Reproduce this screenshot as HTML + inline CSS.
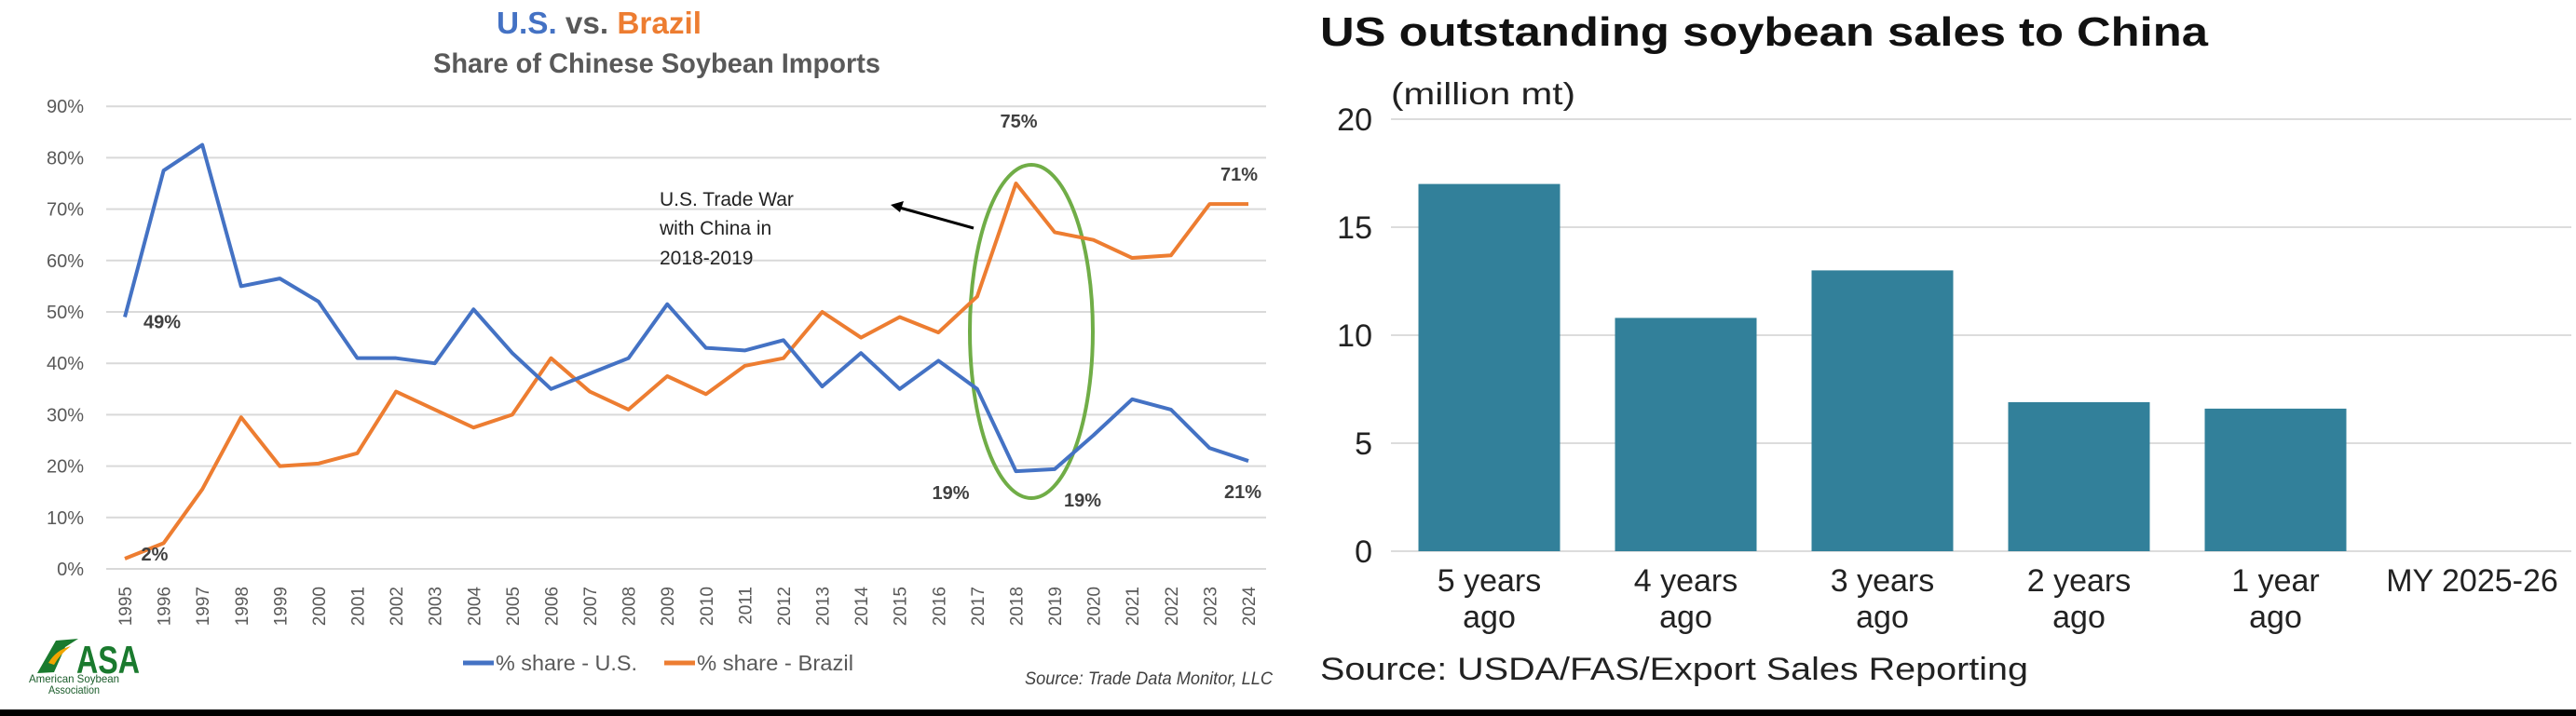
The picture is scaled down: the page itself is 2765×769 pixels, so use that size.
<!DOCTYPE html>
<html><head><meta charset="utf-8"><style>
html,body{margin:0;padding:0;background:#fff;}
svg{display:block;}
.n{font-family:"Liberation Sans Narrow","Liberation Sans",sans-serif;}
.w{font-family:"Liberation Sans",sans-serif;}
</style></head><body>
<svg id="root" width="2765" height="769" viewBox="0 0 2765 769" xmlns="http://www.w3.org/2000/svg">
<rect x="0" y="0" width="2765" height="769" fill="#fff"/>
<g id="left">
  <text class="n" x="643" y="36" text-anchor="middle" font-size="33" font-weight="bold" textLength="220" lengthAdjust="spacingAndGlyphs"><tspan fill="#4472c4">U.S.</tspan><tspan fill="#595959"> vs. </tspan><tspan fill="#ed7d31">Brazil</tspan></text>
  <text class="n" x="705" y="78" text-anchor="middle" font-size="30" font-weight="bold" fill="#595959" textLength="480" lengthAdjust="spacingAndGlyphs">Share of Chinese Soybean Imports</text>
  <g id="lgrid"></g>
  <g id="lylab"></g>
  <g id="lxlab"></g>
  <ellipse cx="1107" cy="356" rx="66" ry="179" fill="none" stroke="#70ad47" stroke-width="4"/>
  <g id="lseries"></g>
  <g class="w" font-size="21" fill="#222">
    <text x="708" y="221">U.S. Trade War</text>
    <text x="708" y="252">with China in</text>
    <text x="708" y="284">2018-2019</text>
  </g>
  <line x1="1045" y1="245" x2="962" y2="222" stroke="#000" stroke-width="3"/>
  <polygon points="956,220 970,216 966,228" fill="#000"/>
  <g id="llabels" class="w" font-size="20" font-weight="bold" fill="#404040"></g>
  <g>
    <g>
      <line x1="497" y1="712" x2="530" y2="712" stroke="#4472c4" stroke-width="5"/>
      <text class="n" x="532" y="720" font-size="23" fill="#595959" textLength="152" lengthAdjust="spacingAndGlyphs">% share - U.S.</text>
    </g>
    <g>
      <line x1="713" y1="712" x2="746" y2="712" stroke="#ed7d31" stroke-width="5"/>
      <text class="n" x="748" y="720" font-size="23" fill="#595959" textLength="168" lengthAdjust="spacingAndGlyphs">% share - Brazil</text>
    </g>
  </g>
  <text class="n" x="1100" y="735" font-size="19" font-style="italic" fill="#404040" textLength="266" lengthAdjust="spacingAndGlyphs">Source: Trade Data Monitor, LLC</text>
  <g>
    <path d="M40,723 L60,688 L84,686 L70,695 L58,722 Z" fill="#1a7a2e"/>
    <path d="M52,712 Q60,698 76,694 Q64,703 58,714 Z" fill="#f0a500"/>
    <text class="n" x="82" y="723" font-size="42" font-weight="bold" fill="#1a7a2e" textLength="68" lengthAdjust="spacingAndGlyphs">ASA</text>
    <text class="n" x="31" y="733" font-size="12" fill="#1a5c2a" textLength="97" lengthAdjust="spacingAndGlyphs">American Soybean</text>
    <text class="n" x="52" y="745" font-size="12" fill="#1a5c2a" textLength="55" lengthAdjust="spacingAndGlyphs">Association</text>
  </g>
</g>
<g id="right">
  <text class="w" x="1417" y="49" font-size="44" font-weight="bold" fill="#111" textLength="953" lengthAdjust="spacingAndGlyphs">US outstanding soybean sales to China</text>
  <text class="w" x="1493" y="112" font-size="33" fill="#222" textLength="198" lengthAdjust="spacingAndGlyphs">(million mt)</text>
  <g id="rgrid"></g>
  <g id="rbars"></g>
  <g id="rlab" class="w" font-size="34" fill="#222"></g>
  <text class="w" x="1417" y="730" font-size="34" fill="#222" textLength="760" lengthAdjust="spacingAndGlyphs">Source: USDA/FAS/Export Sales Reporting</text>
</g>
<rect x="0" y="762" width="2765" height="7" fill="#000"/>
</svg>
<script>
const years = ["1995","1996","1997","1998","1999","2000","2001","2002","2003","2004","2005","2006","2007","2008","2009","2010","2011","2012","2013","2014","2015","2016","2017","2018","2019","2020","2021","2022","2023","2024"];
const usShare = [49,77.5,82.5,55,56.5,52,41,41,40,50.5,42,35,38,41,51.5,43,42.5,44.5,35.5,42,35,40.5,35,19,19.4,26,33,31,23.5,21];
const brazilShare = [2,5,15.5,29.5,20,20.5,22.5,34.5,31,27.5,30,41,34.5,31,37.5,34,39.5,41,50,45,49,46,53,75,65.5,64,60.5,61,71,71];
const leftTicks = [0,10,20,30,40,50,60,70,80,90];
const barCats = [["5 years","ago"],["4 years","ago"],["3 years","ago"],["2 years","ago"],["1 year","ago"],["MY 2025-26",""]];
const barValues = [17.0,10.8,13.0,6.9,6.6,0];
const rightTicks = [0,5,10,15,20];

const NS="http://www.w3.org/2000/svg";
function mk(tag,attrs,parent){const e=document.createElementNS(NS,tag);for(const k in attrs)e.setAttribute(k,attrs[k]);parent.appendChild(e);return e;}
const xL=i=>134+i*(1340-134)/(years.length-1);
const yL=v=>611-v*5.52;
const xR=i=>1493+211*(i+0.5);
const yR=v=>592-v*23.2;

const lgrid=document.getElementById('lgrid'),lylab=document.getElementById('lylab'),lxlab=document.getElementById('lxlab');
leftTicks.forEach(t=>{
  const l=mk('line',{x1:114,x2:1359,y1:yL(t),y2:yL(t),stroke:'#d9d9d9','stroke-width':2},lgrid);
  
  
  const tx=mk('text',{x:90,y:yL(t)+7,'text-anchor':'end','font-size':20,fill:'#595959','class':'w'},lylab);
  tx.textContent=t+'%';
  
  
});
years.forEach((y,i)=>{
  const x=xL(i)+7;
  const tx=mk('text',{x:x,y:630,'text-anchor':'end','font-size':19,fill:'#595959','class':'w',transform:`rotate(-90 ${x} 630)`},lxlab);
  tx.textContent=y;
  
  
});
const ls=document.getElementById('lseries');
[[brazilShare,'#ed7d31','line-brazil'],[usShare,'#4472c4','line-us']].forEach(([d,c,n])=>{
  const p=mk('polyline',{points:d.map((v,i)=>xL(i)+','+yL(v)).join(' '),fill:'none',stroke:c,'stroke-width':4,'stroke-linejoin':'round'},ls);
  
  
});
const ll=document.getElementById('llabels');
function lab(txt,x,y,name){const t=mk('text',{x:x,y:y,'text-anchor':'middle'},ll);t.textContent=txt;}
lab(Math.round(usShare[0])+'%',xL(0)+40,yL(usShare[0])+12,'label-us-1995');
lab(Math.round(brazilShare[0])+'%',xL(0)+32,yL(brazilShare[0])+2,'label-brazil-1995');
lab(Math.round(brazilShare[23])+'%',xL(23)+3,yL(brazilShare[23])-60,'label-brazil-2018');
lab(Math.round(brazilShare[29])+'%',xL(29)-10,yL(brazilShare[29])-25,'label-brazil-2024');
lab(Math.round(usShare[23])+'%',xL(23)-70,yL(usShare[23])+30,'label-us-2018');
lab(Math.round(usShare[24])+'%',xL(24)+30,yL(usShare[24])+40,'label-us-2019');
lab(Math.round(usShare[29])+'%',xL(29)-6,yL(usShare[29])+40,'label-us-2024');

const rgrid=document.getElementById('rgrid'),rbars=document.getElementById('rbars'),rlab=document.getElementById('rlab');
rightTicks.forEach(t=>{
  const l=mk('line',{x1:1493,x2:2760,y1:yR(t),y2:yR(t),stroke:'#dcdcdc','stroke-width':2},rgrid);
  
  
  const tx=mk('text',{x:1473,y:yR(t)+12,'text-anchor':'end','font-size':34,fill:'#222','class':'w'},rgrid);
  tx.textContent=t;
  
  
});
barValues.forEach((v,i)=>{
  if(v>0){
    const r=mk('rect',{x:xR(i)-76,y:yR(v),width:152,height:yR(0)-yR(v),fill:'#32809a'},rbars);
    
    
  }
  barCats[i].forEach((s,j)=>{
    if(!s)return;
    const t=mk('text',{x:xR(i),y:635+j*39,'text-anchor':'middle'},rlab);
    t.textContent=s;
    
    
  });
});
</script>
</body></html>
